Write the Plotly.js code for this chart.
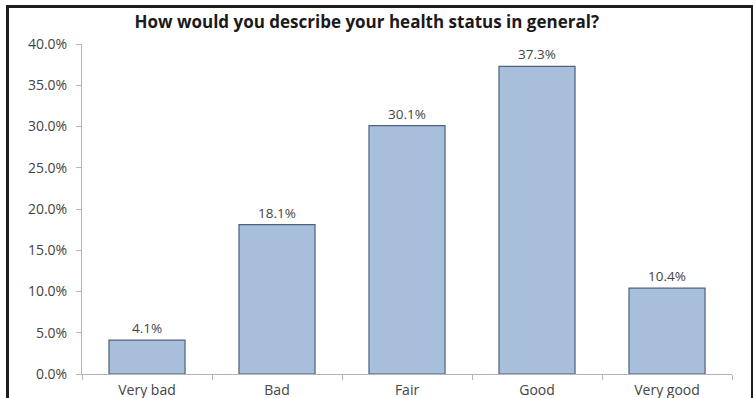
<!DOCTYPE html>
<html>
<head>
<meta charset="utf-8">
<script src="https://cdn.plot.ly/plotly-3.0.1.min.js"></script>
<style>
  html, body { margin: 0; padding: 0; background: #fff; }
  #wrap { position: relative; width: 753px; height: 398px; overflow: hidden; }
  #chart { width: 753px; height: 398px; }
  #frame { position: absolute; left: 6px; top: 5px; width: 742px; height: 400px;
           border: 3px solid #1e1e1e; pointer-events: none; }
</style>
</head>
<body>
<div id="wrap">
  <div id="chart"></div>
  <div id="frame"></div>
</div>
<script>
const categories = ["Very bad", "Bad", "Fair", "Good", "Very good"];
const values = [4.1, 18.1, 30.1, 37.3, 10.4];
const tickVals = [0, 5, 10, 15, 20, 25, 30, 35, 40];
const tickText = ["0.0%", "5.0%", "10.0%", "15.0%", "20.0%", "25.0%", "30.0%", "35.0%", "40.0%"];
const chartTitle = "How would you describe your health status in general?";

const font = "'Open Sans', sans-serif";

const trace = {
  type: "bar",
  x: categories,
  y: values,
  width: 0.585,
  marker: { color: "#a7bfdb", line: { color: "#4f5f7d", width: 1.2 } },
  text: values.map(v => v.toFixed(1) + "%"),
  textposition: "outside",
  cliponaxis: false,
  textfont: { family: font, size: 13.5, color: "#444" },
  hoverinfo: "none"
};

const layout = {
  width: 753, height: 398,
  margin: { l: 82, r: 21, t: 44, b: 24 },
  paper_bgcolor: "#fff",
  plot_bgcolor: "#fff",
  showlegend: false,
  bargap: 0.415,
  title: {
    text: "<b>" + chartTitle + "</b>",
    font: { family: font, size: 17, color: "#1a1a1a" },
    x: 0.487, xanchor: "center", xref: "container",
    y: 0.945, yanchor: "middle", yref: "container"
  },
  xaxis: {
    showline: true, linecolor: "#b5b5b5", linewidth: 1,
    ticks: "outside", tickson: "boundaries", ticklen: 5, tickcolor: "#b5b5b5",
    ticklabelstandoff: 3,
    tickfont: { family: font, size: 14, color: "#444" },
    showgrid: false, zeroline: false, fixedrange: true
  },
  yaxis: {
    range: [0, 40],
    tickvals: tickVals, ticktext: tickText,
    showline: true, linecolor: "#b5b5b5", linewidth: 1,
    ticks: "outside", ticklen: 5, tickcolor: "#b5b5b5",
    ticklabelstandoff: 6,
    tickfont: { family: font, size: 14, color: "#444" },
    showgrid: false, zeroline: false, fixedrange: true
  }
};

Plotly.newPlot("chart", [trace], layout, { displayModeBar: false, staticPlot: true });
</script>
</body>
</html>
